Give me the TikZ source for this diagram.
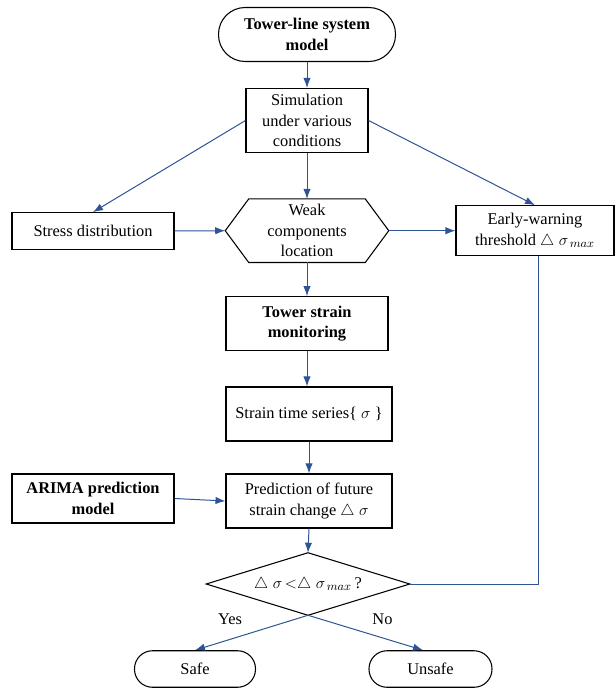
\documentclass[tikz,border=0pt]{standalone}
\usepackage{fontspec}
\setmainfont{Liberation Serif}
\usetikzlibrary{arrows.meta}
\definecolor{lineblue}{RGB}{46,84,150}
\begin{document}
\begin{tikzpicture}[x=0.75pt,y=-0.75pt,
  font=\fontsize{12.3}{15.4}\selectfont,
  box/.style={draw=black,line width=0.8pt,rectangle,align=center,inner sep=0pt},
  term/.style={box,rounded corners=#1},
  ghost/.style={rectangle,align=center,inner sep=0pt},
  conn/.style={draw=lineblue,line width=0.75pt,-{Latex[length=7.5pt,width=5.5pt]}},
  plain/.style={draw=lineblue,line width=0.75pt},
  lbl/.style={inner sep=0pt}]
\useasboundingbox (0,0) rectangle (615,688);

\node[term=20pt,minimum width=132.75pt,minimum height=40.5pt] (tl) at (307,34.5) {\bfseries Tower-line system\\\bfseries model};
\node[box,minimum width=91.5pt,minimum height=48pt] (sim) at (307,120.5) {Simulation\\under various\\conditions};
\node[box,minimum width=121.5pt,minimum height=27.5pt] (stress) at (93,231) {Stress distribution};
\node[ghost,minimum width=122.25pt,minimum height=47.25pt] (weak) at (307,230.7) {Weak\\components\\location};
\draw[line width=0.8pt] (weak.west) -- ([xshift=17.6pt]weak.north west) -- ([xshift=-17.6pt]weak.north east) -- (weak.east) -- ([xshift=-17.6pt]weak.south east) -- ([xshift=17.6pt]weak.south west) -- cycle;
\node[box,minimum width=118.5pt,minimum height=37.5pt] (ew) at (535,230.7) {Early-warning\\threshold $\triangle\;\sigma_{\,max}$};
\node[box,minimum width=121.5pt,minimum height=40.5pt] (tsm) at (307,323.7) {\bfseries Tower strain\\\bfseries monitoring};
\node[box,minimum width=124.5pt,minimum height=40.5pt] (sts) at (309,414) {Strain time series\{ $\sigma$ \}};
\node[box,minimum width=121.5pt,minimum height=36.75pt] (arima) at (93,498.5) {\bfseries ARIMA prediction\\\bfseries model};
\node[box,minimum width=124.5pt,minimum height=40.5pt] (pred) at (309,501) {Prediction of future\\strain change $\triangle\;\sigma$};
\node[ghost,minimum width=152.25pt,minimum height=46.5pt] (dec) at (308,584) {$\triangle\;\sigma\,{<}\triangle\;\sigma_{\,max}$\,?};
\draw[line width=0.8pt] (dec.west) -- (dec.north) -- (dec.east) -- (dec.south) -- cycle;
\node[term=13.5pt,minimum width=90.75pt,minimum height=27.4pt] (safe) at (195,669) {Safe};
\node[term=13.5pt,minimum width=92.25pt,minimum height=27.4pt] (unsafe) at (430.5,669) {Unsafe};

\draw[conn] (tl.south) -- (sim.north);
\draw[conn] (sim.west) -- (stress.north);
\draw[conn] (sim.south) -- (weak.north);
\draw[conn] (sim.east) -- (ew.north);
\draw[conn] (stress.east) -- (weak.west);
\draw[conn] (weak.east) -- (ew.west);
\draw[conn] (weak.south) -- (tsm.north);
\draw[conn] (tsm.south) -- (tsm.south |- sts.north);
\draw[conn] (sts.south) -- (pred.north);
\draw[conn] (arima.east) -- (pred.west);
\draw[conn] (pred.south) -- (dec.north);
\draw[plain] ([xshift=2.25pt]ew.south) |- (dec.east);
\draw[conn] (dec.south) -- (safe.north);
\draw[conn] (dec.south) -- ([xshift=-5.6pt]unsafe.north);
\node[lbl] (yes) at (230,619) {Yes};
\node[lbl] (no) at (382.5,619) {No};
\end{tikzpicture}
\end{document}
